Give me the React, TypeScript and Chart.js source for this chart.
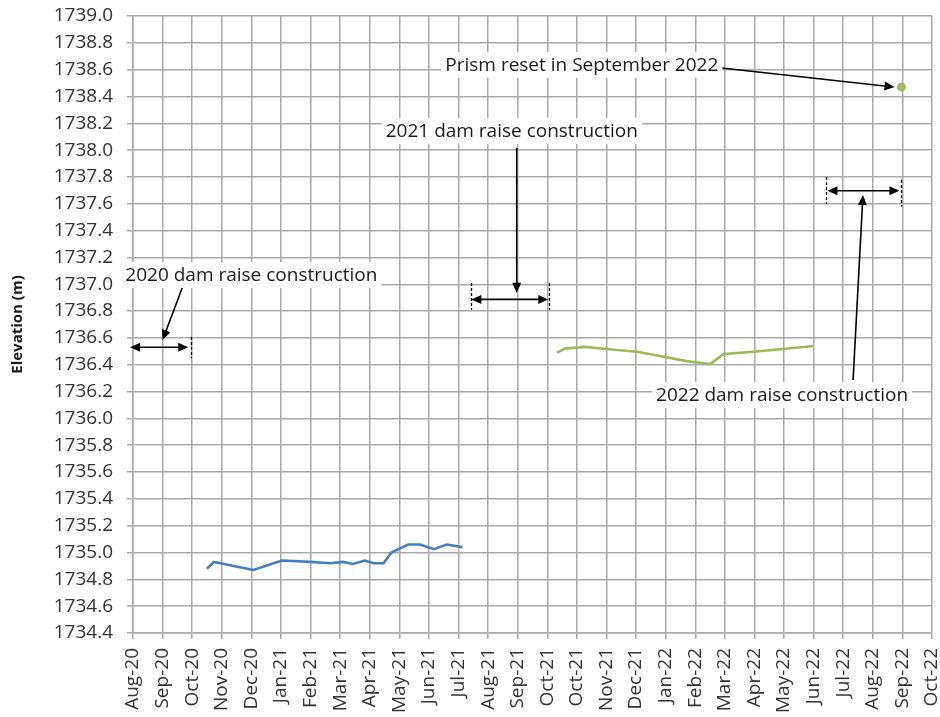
import React, { useEffect, useRef } from 'react';
import { Chart, registerables } from 'chart.js';

Chart.register(...registerables);

// ---- axis definitions ----
const ORIGIN_DATE = '2020-08-07'; // first category tick (Aug-20)
const X_SPAN_DAYS = 810;
const X_STEP_DAYS = 30;
const Y_MIN = 1734.4;
const Y_MAX = 1739.0;
const Y_STEP = 0.2;
const MONTH_NAMES = ['Jan', 'Feb', 'Mar', 'Apr', 'May', 'Jun', 'Jul', 'Aug', 'Sep', 'Oct', 'Nov', 'Dec'];
const Y_TITLE = 'Elevation (m)';

// ---- series ----
const blueDates = [
  '2020-10-21', '2020-10-28', '2020-12-07', '2021-01-05', '2021-02-02', '2021-02-23',
  '2021-03-08', '2021-03-18', '2021-03-30', '2021-04-08', '2021-04-18', '2021-04-26',
  '2021-05-13', '2021-05-25', '2021-06-08', '2021-06-21', '2021-07-07',
];
const blueValues = [
  1734.88, 1734.93, 1734.87, 1734.94, 1734.93, 1734.92,
  1734.93, 1734.915, 1734.94, 1734.92, 1734.92, 1735.0,
  1735.06, 1735.06, 1735.025, 1735.06, 1735.04,
];

const greenDates = [
  '2021-10-11', '2021-10-19', '2021-11-07', '2021-11-30', '2021-12-31', '2022-01-27',
  '2022-02-19', '2022-03-15', '2022-03-29', '2022-04-28', '2022-05-28', '2022-06-28',
];
const greenValues = [
  1736.49, 1736.52, 1736.533, 1736.517, 1736.497, 1736.46,
  1736.427, 1736.405, 1736.48, 1736.497, 1736.517, 1736.54,
];

const resetDates = ['2022-09-25'];
const resetValues = [1738.47];

// ---- annotations (data coordinates) ----
const labelTexts = [
  '2020 dam raise construction',
  '2021 dam raise construction',
  '2022 dam raise construction',
  'Prism reset in September 2022',
];
const labelDates = ['2020-12-05', '2021-08-26', '2022-05-27', '2021-11-05'];
const labelValues = [1737.069, 1738.142, 1736.174, 1738.635];

const arrowFromDates = ['2020-09-27', '2021-08-31', '2022-08-07', '2022-03-27'];
const arrowFromValues = [1736.994, 1738.016, 1736.286, 1738.612];
const arrowToDates = ['2020-09-06', '2021-08-31', '2022-08-17', '2022-09-18'];
const arrowToValues = [1736.584, 1736.937, 1737.665, 1738.47];

const spanStartDates = ['2020-08-04', '2021-07-16', '2022-07-12'];
const spanEndDates = ['2020-10-02', '2021-10-02', '2022-09-23'];
const spanValues = [1736.53, 1736.887, 1737.697];

const markerDates = ['2020-10-05', '2021-07-16', '2021-10-03', '2022-07-11', '2022-09-25'];
const markerLows = [1736.45, 1736.81, 1736.81, 1737.6, 1737.578];
const markerHighs = [1736.606, 1737.009, 1737.009, 1737.8, 1737.777];

// ---- helpers ----
const parseUTC = (s: string) => {
  const [y, m, d] = s.split('-').map(Number);
  return Date.UTC(y, m - 1, d);
};
const DAY_MS = 86400000;
const dayOf = (s: string) => (parseUTC(s) - parseUTC(ORIGIN_DATE)) / DAY_MS;
const formatDay = (v: number) => {
  const dt = new Date(parseUTC(ORIGIN_DATE) + Math.round(v) * DAY_MS);
  return MONTH_NAMES[dt.getUTCMonth()] + '-' + String(dt.getUTCFullYear() % 100).padStart(2, '0');
};

const FONT_FAMILY = '"Open Sans", "DejaVu Sans", sans-serif';
const TEXT_SIZE = 19;
const GRID_COLOR = '#a9a9a9';
const TEXT_COLOR = '#333333';

function arrowHead(ctx: CanvasRenderingContext2D, x1: number, y1: number, x2: number, y2: number) {
  const ang = Math.atan2(y2 - y1, x2 - x1);
  const len = 10;
  const half = 4.5;
  ctx.beginPath();
  ctx.moveTo(x2, y2);
  ctx.lineTo(x2 - len * Math.cos(ang) + half * Math.sin(ang), y2 - len * Math.sin(ang) - half * Math.cos(ang));
  ctx.lineTo(x2 - len * Math.cos(ang) - half * Math.sin(ang), y2 - len * Math.sin(ang) + half * Math.cos(ang));
  ctx.closePath();
  ctx.fill();
}

function shortened(x1: number, y1: number, x2: number, y2: number, by: number) {
  const d = Math.hypot(x2 - x1, y2 - y1) || 1;
  return [x2 - ((x2 - x1) / d) * by, y2 - ((y2 - y1) / d) * by];
}

const annotationPlugin = {
  id: 'damAnnotations',
  afterDatasetsDraw(chart: any) {
    const { ctx, scales } = chart;
    const xs = scales.x;
    const ys = scales.y;
    const px = (d: string) => xs.getPixelForValue(dayOf(d));
    const py = (v: number) => ys.getPixelForValue(v);
    ctx.save();
    ctx.strokeStyle = '#000';
    ctx.fillStyle = '#000';

    // dashed markers
    ctx.lineWidth = 1.3;
    ctx.setLineDash([3, 2]);
    markerDates.forEach((d, i) => {
      const X = Math.round(px(d)) + 0.5;
      ctx.beginPath();
      ctx.moveTo(X, py(markerHighs[i]));
      ctx.lineTo(X, py(markerLows[i]));
      ctx.stroke();
    });
    ctx.setLineDash([]);

    // double-headed spans
    ctx.lineWidth = 1.6;
    spanStartDates.forEach((d, i) => {
      const x1 = px(d);
      const x2 = px(spanEndDates[i]);
      const Y = py(spanValues[i]);
      const [ax, ay] = shortened(x2, Y, x1, Y, 8);
      const [bx, by] = shortened(x1, Y, x2, Y, 8);
      ctx.beginPath();
      ctx.moveTo(ax, ay);
      ctx.lineTo(bx, by);
      ctx.stroke();
      arrowHead(ctx, x2, Y, x1, Y);
      arrowHead(ctx, x1, Y, x2, Y);
    });

    // single arrows
    arrowFromDates.forEach((d, i) => {
      const x1 = px(d);
      const y1 = py(arrowFromValues[i]);
      const x2 = px(arrowToDates[i]);
      const y2 = py(arrowToValues[i]);
      const [ex, ey] = shortened(x1, y1, x2, y2, 8);
      ctx.beginPath();
      ctx.moveTo(x1, y1);
      ctx.lineTo(ex, ey);
      ctx.stroke();
      arrowHead(ctx, x1, y1, x2, y2);
    });

    // text boxes
    ctx.font = `${TEXT_SIZE}px ${FONT_FAMILY}`;
    ctx.textAlign = 'center';
    ctx.textBaseline = 'middle';
    labelTexts.forEach((t, i) => {
      const cx = px(labelDates[i]);
      const cy = py(labelValues[i]);
      const w = ctx.measureText(t).width + 8;
      const h = 26;
      ctx.fillStyle = '#ffffff';
      ctx.fillRect(cx - w / 2, cy - h / 2, w, h);
      ctx.fillStyle = '#1a1a1a';
      ctx.fillText(t, cx, cy + 1);
    });
    ctx.restore();
  },
};

export default function App() {
  const canvasRef = useRef<HTMLCanvasElement | null>(null);

  useEffect(() => {
    if (!canvasRef.current) return;
    const toPoints = (dates: string[], vals: number[]) => dates.map((d, i) => ({ x: dayOf(d), y: vals[i] }));
    const tickFont = { family: FONT_FAMILY, size: TEXT_SIZE };
    const chart = new Chart(canvasRef.current, {
      type: 'scatter',
      data: {
        datasets: [
          {
            data: toPoints(blueDates, blueValues),
            showLine: true,
            borderColor: '#4a7ebb',
            backgroundColor: '#4a7ebb',
            borderWidth: 2.6,
            pointRadius: 0,
            tension: 0,
          },
          {
            data: toPoints(greenDates, greenValues),
            showLine: true,
            borderColor: '#9bbb59',
            backgroundColor: '#9bbb59',
            borderWidth: 2.6,
            pointRadius: 0,
            tension: 0,
          },
          {
            data: toPoints(resetDates, resetValues),
            showLine: false,
            borderColor: '#9bbb59',
            backgroundColor: '#9bbb59',
            pointRadius: 4,
          },
        ],
      },
      options: {
        animation: false,
        responsive: true,
        maintainAspectRatio: false,
        layout: { padding: { top: 16, right: 8, left: 0, bottom: 0 } },
        plugins: { legend: { display: false }, tooltip: { enabled: false } },
        scales: {
          x: {
            type: 'linear',
            min: 0,
            max: X_SPAN_DAYS,
            ticks: {
              stepSize: X_STEP_DAYS,
              autoSkip: false,
              minRotation: 90,
              maxRotation: 90,
              padding: 9,
              color: TEXT_COLOR,
              font: tickFont,
              callback: (v: any) => formatDay(Number(v)),
            },
            grid: { color: GRID_COLOR, lineWidth: 1.5, tickLength: 6 },
            border: { color: GRID_COLOR, width: 1.5 },
            afterFit: (s: any) => {
              s.height = 84;
              s.paddingLeft = 0;
              s.paddingRight = 0;
            },
          },
          y: {
            type: 'linear',
            min: Y_MIN,
            max: Y_MAX,
            ticks: {
              stepSize: Y_STEP,
              padding: 14,
              color: TEXT_COLOR,
              font: tickFont,
              callback: (v: any) => Number(v).toFixed(1),
            },
            grid: { color: GRID_COLOR, lineWidth: 1.5, tickLength: 6 },
            border: { color: GRID_COLOR, width: 1.5 },
            title: {
              display: true,
              text: Y_TITLE,
              color: '#1a1a1a',
              font: { family: FONT_FAMILY, size: 15, weight: 'bold' },
              padding: { top: 9, bottom: 0 },
            },
            afterFit: (s: any) => {
              s.width = 133;
              s.paddingTop = 0;
              s.paddingBottom = 0;
            },
          },
        },
      },
      plugins: [annotationPlugin],
    } as any);
    return () => chart.destroy();
  }, []);

  return (
    <div style={{ position: 'fixed', left: 0, top: 0, width: 940, height: 717, background: '#fff' }}>
      <canvas ref={canvasRef} />
    </div>
  );
}
